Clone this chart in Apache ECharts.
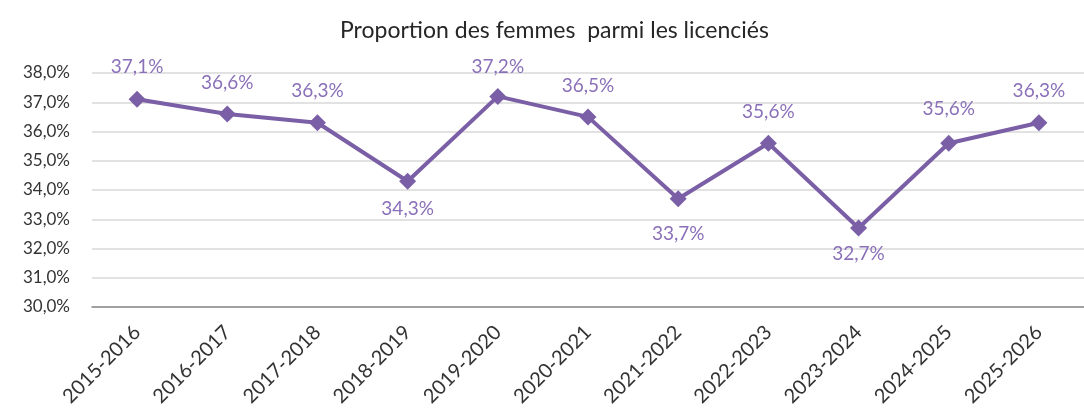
<!DOCTYPE html>
<html>
<head>
<meta charset="utf-8">
<script src="https://cdn.jsdelivr.net/npm/echarts@6/dist/echarts.min.js"></script>
<style>
  html, body { margin: 0; padding: 0; background: #fff; }
  #chart { width: 1084px; height: 411px; }
</style>
</head>
<body>
<div id="chart"></div>
<script>
const saisons = ['2015-2016', '2016-2017', '2017-2018', '2018-2019', '2019-2020', '2020-2021',
  '2021-2022', '2022-2023', '2023-2024', '2024-2025', '2025-2026']
const proportionFemmes = [37.1, 36.6, 36.3, 34.3, 37.2, 36.5, 33.7, 35.6, 32.7, 35.6, 36.3]

// where each label sits (Excel placed them by hand)
const labelPlace = ['top', 'top', 'top', 'bottom', 'top', 'top', 'bottom', 'top', 'bottom', 'top', 'top']
const labelGap = [14, 13, 14, 10, 12, 13, 17, 13, 8, 16, 14]

const fmt = v => v.toFixed(1).replace('.', ',') + '%'
const FONT = "Lato, sans-serif"

const chart = echarts.init(document.getElementById('chart'))

const option = {
  animation: false,
  title: {
    text: 'Proportion des femmes  parmi les licenciés',
    left: 335,
    top: 14,
    textStyle: { fontFamily: FONT, fontSize: 23, fontWeight: 'normal', color: '#262626' }
  },
  grid: { left: 92, top: 73, width: 1003, height: 234 },
  xAxis: {
    type: 'category',
    data: saisons,
    boundaryGap: true,
    axisLine: { lineStyle: { color: '#8c8c8c', width: 1.5 } },
    axisTick: { show: false },
    axisLabel: { rotate: 45, margin: 22, fontFamily: FONT, fontSize: 20, color: '#333', interval: 0 }
  },
  yAxis: {
    type: 'value',
    min: 30,
    max: 38,
    interval: 1,
    axisLine: { show: false },
    axisTick: { show: false },
    splitLine: { lineStyle: { color: '#d9d9d9', width: 1.5 } },
    axisLabel: { margin: 22, fontFamily: FONT, fontSize: 17, color: '#333', formatter: fmt }
  },
  series: [{
    type: 'line',
    data: proportionFemmes.map((v, i) => ({
      value: v,
      label: { position: labelPlace[i], distance: labelGap[i] }
    })),
    lineStyle: { color: '#7b5fa6', width: 4 },
    itemStyle: { color: '#7b5fa6' },
    symbol: 'diamond',
    symbolSize: 17,
    label: {
      show: true,
      fontFamily: FONT,
      fontSize: 19,
      color: '#8a70b8',
      formatter: p => fmt(p.value)
    }
  }]
}

chart.setOption(option)
</script>
</body>
</html>
